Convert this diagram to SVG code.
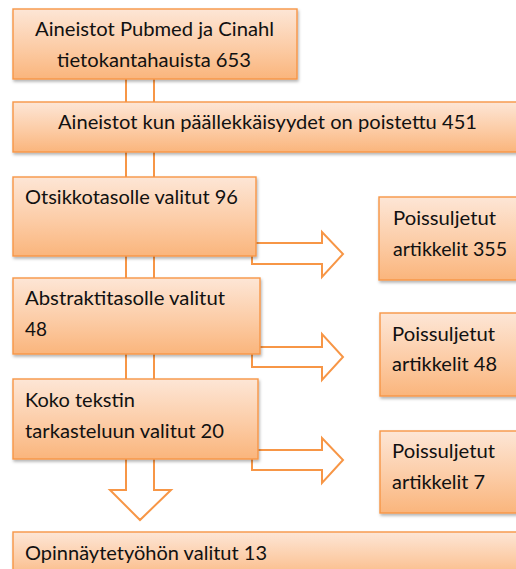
<svg xmlns="http://www.w3.org/2000/svg" width="516" height="569" viewBox="0 0 516 569">
<style>
.box{fill:url(#g);stroke:#F79646;stroke-width:1.4;filter:url(#sh)}
.arr{fill:#FFFFFF;stroke:#F79646;stroke-width:2;stroke-linejoin:miter}
text{font-family:Lato,"Open Sans","Liberation Sans",sans-serif;font-size:18.5px;fill:#111111}
</style>
<defs>
<linearGradient id="g" x1="0" y1="0" x2="0" y2="1">
<stop offset="0" stop-color="#FDE6D6"/>
<stop offset="0.55" stop-color="#FCCCA6"/>
<stop offset="1" stop-color="#FAB57C"/>
</linearGradient>
<filter id="sh" x="-5%" y="-10%" width="115%" height="130%">
<feDropShadow dx="1" dy="2" stdDeviation="1.5" flood-color="#000000" flood-opacity="0.3"/>
</filter>
</defs>
<g id="connectors">
<path class="arr" d="M126,70 L154,70 L154,490 L171,490 L140,520 L110,490 L126,490 Z"/>
<path class="arr" d="M252,243 L322,243 L322,232 L343,254 L322,277 L322,264 L252,264 Z"/>
<path class="arr" d="M252,347 L322,347 L322,334 L343,357 L322,380 L322,367 L252,367 Z"/>
<path class="arr" d="M252,450 L322,450 L322,438 L343,460 L322,483 L322,470 L252,470 Z"/>
</g>
<g id="n1">
<rect class="box" x="13" y="9" width="284" height="70"/>
<text x="35" y="36" textLength="239" lengthAdjust="spacingAndGlyphs">Aineistot Pubmed ja Cinahl</text>
<text x="57" y="67" textLength="194" lengthAdjust="spacingAndGlyphs">tietokantahauista 653</text>
</g>
<g id="n2">
<rect class="box" x="13" y="102" width="512" height="50"/>
<text x="58" y="129" textLength="419" lengthAdjust="spacingAndGlyphs">Aineistot kun päällekkäisyydet on poistettu 451</text>
</g>
<g id="n3">
<rect class="box" x="13" y="177" width="243" height="79"/>
<text x="25" y="204" textLength="213" lengthAdjust="spacingAndGlyphs">Otsikkotasolle valitut 96</text>
</g>
<g id="n4">
<rect class="box" x="13" y="278" width="247" height="76"/>
<text x="25" y="305" textLength="200" lengthAdjust="spacingAndGlyphs">Abstraktitasolle valitut</text>
<text x="25" y="336" textLength="22" lengthAdjust="spacingAndGlyphs">48</text>
</g>
<g id="n5">
<rect class="box" x="13" y="379" width="245" height="80"/>
<text x="25" y="407" textLength="110" lengthAdjust="spacingAndGlyphs">Koko tekstin</text>
<text x="25" y="438" textLength="199" lengthAdjust="spacingAndGlyphs">tarkasteluun valitut 20</text>
</g>
<g id="p1">
<rect class="box" x="379" y="197" width="146" height="83"/>
<text x="393" y="225" textLength="103" lengthAdjust="spacingAndGlyphs">Poissuljetut</text>
<text x="393" y="256" textLength="114" lengthAdjust="spacingAndGlyphs">artikkelit 355</text>
</g>
<g id="p2">
<rect class="box" x="380" y="313" width="145" height="83"/>
<text x="392" y="341" textLength="103" lengthAdjust="spacingAndGlyphs">Poissuljetut</text>
<text x="392" y="371" textLength="105" lengthAdjust="spacingAndGlyphs">artikkelit 48</text>
</g>
<g id="p3">
<rect class="box" x="380" y="431" width="145" height="82"/>
<text x="392" y="458" textLength="103" lengthAdjust="spacingAndGlyphs">Poissuljetut</text>
<text x="392" y="489" textLength="93" lengthAdjust="spacingAndGlyphs">artikkelit 7</text>
</g>
<g id="n6">
<rect class="box" x="13" y="532" width="512" height="50"/>
<text x="25" y="560" textLength="242" lengthAdjust="spacingAndGlyphs">Opinnäytetyöhön valitut 13</text>
</g>
</svg>
